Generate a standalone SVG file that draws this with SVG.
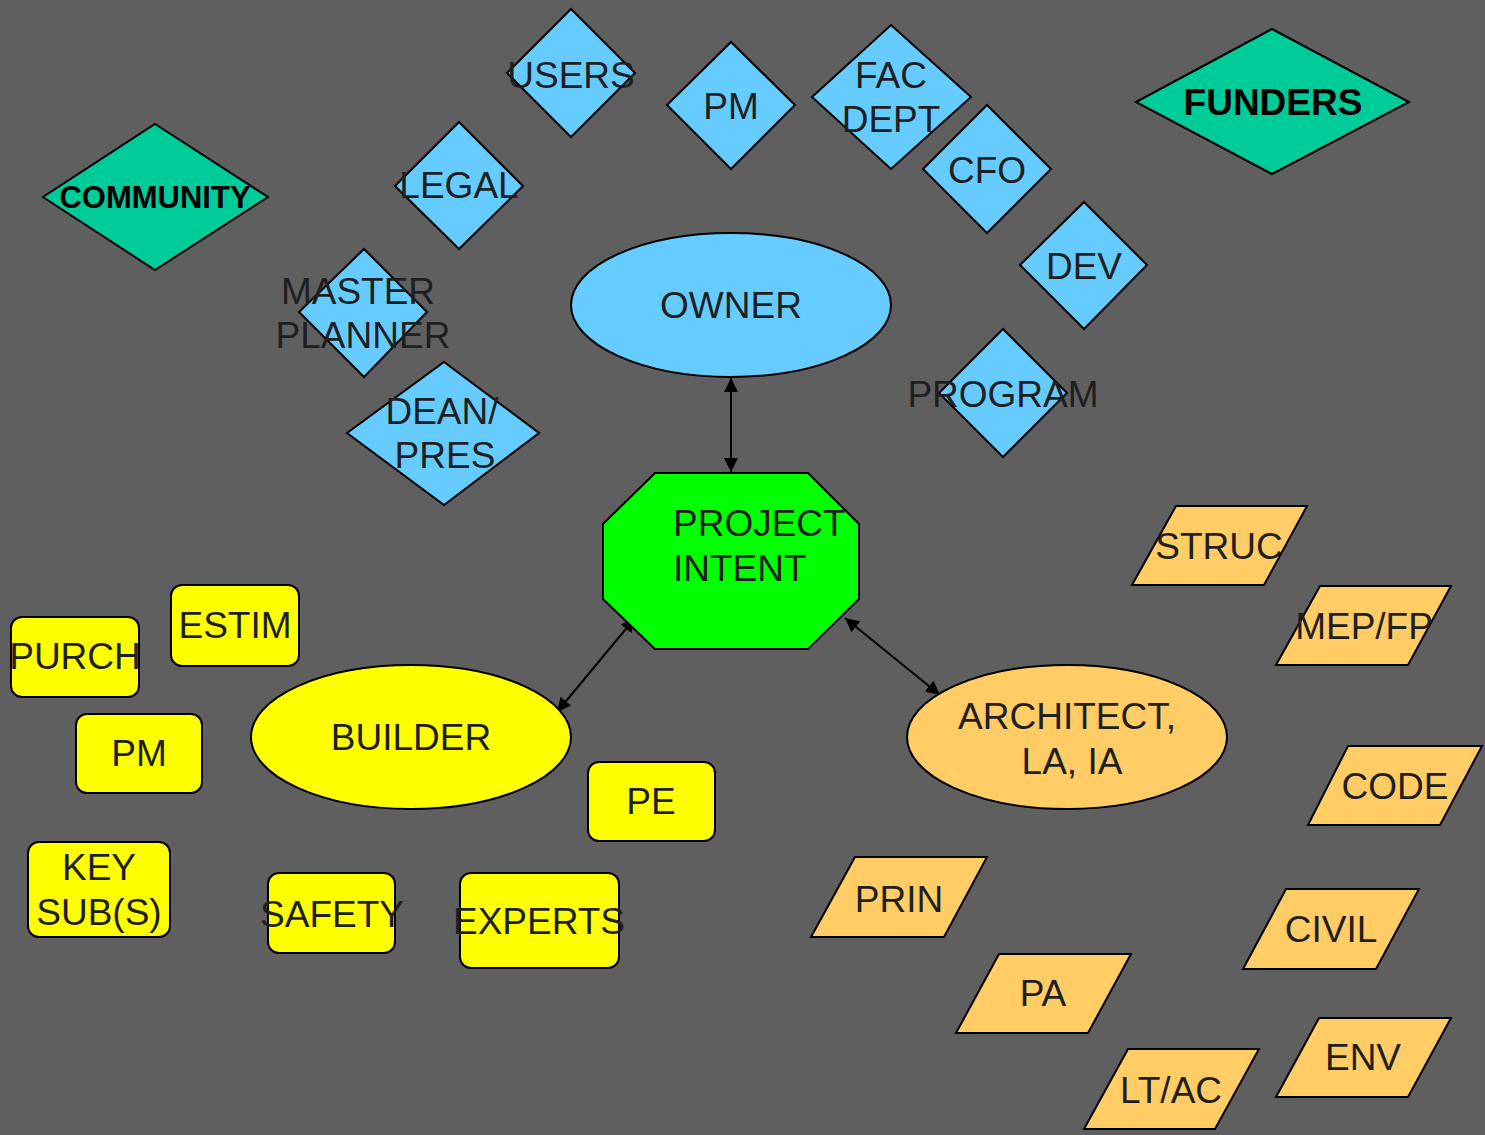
<svg xmlns="http://www.w3.org/2000/svg" width="1485" height="1135" viewBox="0 0 1485 1135">
<style>
text{font-family:"Liberation Sans",Arial,sans-serif;font-size:37px;fill:#1f1f1f;text-anchor:middle}
.b{font-weight:bold;fill:#000}
.dia{fill:#66ccff;stroke:#000;stroke-width:2}
.grn{fill:#00cc99;stroke:#000;stroke-width:2}
.yel{fill:#ffff00;stroke:#000;stroke-width:2}
.org{fill:#ffcc66;stroke:#000;stroke-width:2}
.oct{fill:#00ff00;stroke:#000;stroke-width:2}
.con{stroke:#000;stroke-width:2;fill:none;marker-start:url(#ah);marker-end:url(#ah)}
</style>
<defs>
<marker id="ah" viewBox="0 0 14 14" refX="14" refY="7" markerWidth="14" markerHeight="14" markerUnits="userSpaceOnUse" orient="auto-start-reverse">
<path d="M0,0 L14,7 L0,14 z" fill="#000"/>
</marker>
</defs>
<rect x="0" y="0" width="1485" height="1135" fill="#5f5f5f"/>

<g id="connectors">
<line class="con" x1="731" y1="378" x2="731" y2="472"/>
<line class="con" x1="635" y1="618" x2="557" y2="712"/>
<line class="con" x1="845" y1="618" x2="940" y2="695"/>
</g>

<g id="community"><polygon class="grn" points="155,124 268,197 155,270 43,197"/><text class="b" x="155" y="208" style="font-size:31px">COMMUNITY</text></g>
<g id="funders"><polygon class="grn" points="1272,29 1409,102 1272,174 1136,102"/><text class="b" x="1273" y="115">FUNDERS</text></g>

<g id="users"><polygon class="dia" points="571,9 635,73 571,137 507,73"/><text x="571" y="88">USERS</text></g>
<g id="pm-owner"><polygon class="dia" points="731,42 795,105 731,169 667,105"/><text x="731" y="119">PM</text></g>
<g id="fac-dept"><polygon class="dia" points="891,25 971,97 891,169 812,97"/><text x="891" y="88">FAC</text><text x="891" y="132">DEPT</text></g>
<g id="cfo"><polygon class="dia" points="987,105 1051,169 987,233 923,169"/><text x="987" y="183">CFO</text></g>
<g id="dev"><polygon class="dia" points="1084,202 1147,265 1084,329 1020,265"/><text x="1084" y="279">DEV</text></g>
<g id="program"><polygon class="dia" points="1003,329 1067,393 1003,457 939,393"/><text x="1003" y="407">PROGRAM</text></g>
<g id="legal"><polygon class="dia" points="459,122 523,186 459,249 395,186"/><text x="459" y="198">LEGAL</text></g>
<g id="master-planner"><polygon class="dia" points="364,249 427,312 364,377 299,312"/><text x="358" y="304">MASTER</text><text x="363" y="348">PLANNER</text></g>
<g id="dean-pres"><polygon class="dia" points="444,362 539,433 444,505 347,433"/><text x="442" y="424">DEAN/</text><text x="445" y="468">PRES</text></g>

<g id="owner"><ellipse class="dia" cx="731" cy="305" rx="160" ry="72"/><text x="731" y="318">OWNER</text></g>

<g id="project-intent"><polygon class="oct" points="655,473 808,473 859,524 859,599 808,649 655,649 603,599 603,524"/><text x="673" y="536" style="text-anchor:start">PROJECT</text><text x="673" y="581" style="text-anchor:start">INTENT</text></g>

<g id="builder"><ellipse class="yel" cx="411" cy="737" rx="160" ry="72"/><text x="411" y="750">BUILDER</text></g>
<g id="estim"><rect class="yel" x="171" y="585" width="128" height="81" rx="11"/><text x="235" y="638">ESTIM</text></g>
<g id="purch"><rect class="yel" x="11" y="617" width="128" height="80" rx="11"/><text x="75" y="669">PURCH</text></g>
<g id="pm-builder"><rect class="yel" x="76" y="714" width="126" height="79" rx="11"/><text x="139" y="766">PM</text></g>
<g id="pe"><rect class="yel" x="588" y="762" width="127" height="79" rx="11"/><text x="651" y="814">PE</text></g>
<g id="key-subs"><rect class="yel" x="28" y="842" width="142" height="95" rx="11"/><text x="99" y="880">KEY</text><text x="99" y="925">SUB(S)</text></g>
<g id="safety"><rect class="yel" x="268" y="873" width="127" height="80" rx="11"/><text x="332" y="927">SAFETY</text></g>
<g id="experts"><rect class="yel" x="460" y="873" width="159" height="95" rx="11"/><text x="539" y="934">EXPERTS</text></g>

<g id="architect"><ellipse class="org" cx="1067" cy="737" rx="160" ry="72"/><text x="1067" y="729">ARCHITECT,</text><text x="1072" y="774">LA, IA</text></g>
<g id="struc"><polygon class="org" points="1176,506 1307,506 1264,585 1132,585"/><text x="1219" y="559">STRUC</text></g>
<g id="mep-fp"><polygon class="org" points="1320,586 1451,586 1408,665 1276,665"/><text x="1364" y="639">MEP/FP</text></g>
<g id="code"><polygon class="org" points="1348,746 1482,746 1440,825 1308,825"/><text x="1395" y="799">CODE</text></g>
<g id="prin"><polygon class="org" points="855,857 987,857 944,937 811,937"/><text x="899" y="912">PRIN</text></g>
<g id="civil"><polygon class="org" points="1286,889 1419,889 1376,969 1243,969"/><text x="1331" y="942">CIVIL</text></g>
<g id="pa"><polygon class="org" points="999,954 1131,954 1088,1033 956,1033"/><text x="1043" y="1006">PA</text></g>
<g id="lt-ac"><polygon class="org" points="1128,1049 1259,1049 1215,1129 1084,1129"/><text x="1171" y="1103">LT/AC</text></g>
<g id="env"><polygon class="org" points="1319,1018 1451,1018 1408,1097 1276,1097"/><text x="1363" y="1070">ENV</text></g>
</svg>
